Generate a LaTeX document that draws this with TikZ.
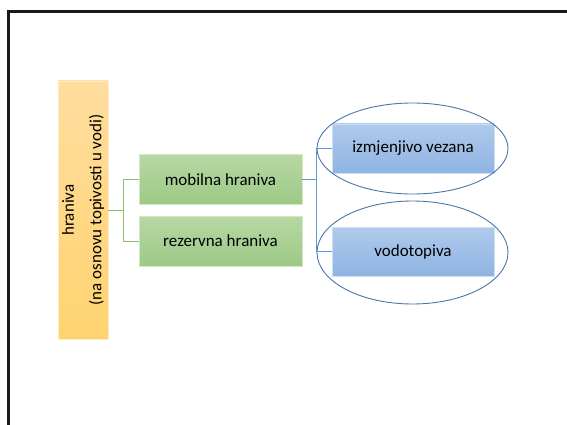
\documentclass[tikz,border=0pt]{standalone}
\usepackage{fontspec}
\setmainfont{Carlito}
\usetikzlibrary{shapes.geometric}
\definecolor{orangetop}{HTML}{FFDD9E}
\definecolor{orangebot}{HTML}{FFD370}
\definecolor{greentop}{HTML}{B7D8A4}
\definecolor{greenbot}{HTML}{9CC986}
\definecolor{bluetop}{HTML}{AFCAEB}
\definecolor{bluebot}{HTML}{8FB4E3}
\definecolor{greenline}{HTML}{8CC06C}
\definecolor{blueline}{HTML}{5B9BD5}
\definecolor{ringline}{HTML}{4A76A8}

\begin{document}
\begin{tikzpicture}[x=1pt,y=-1pt,
    every node/.style={font=\fontsize{17}{20.4}\selectfont, inner sep=0pt},
    greenbox/.style={minimum width=163pt, minimum height=50pt,
        top color=greentop, bottom color=greenbot, draw=greentop!60!white, line width=0.8pt},
    bluebox/.style={minimum width=162pt, minimum height=49pt,
        top color=bluetop, bottom color=bluebot, draw=bluetop!60!white, line width=0.8pt},
    ring/.style={ellipse, draw=ringline, line width=0.9pt, minimum width=191pt},
    greenconn/.style={draw=greenline, line width=0.9pt},
    blueconn/.style={draw=blueline, line width=0.9pt}]
    %%%%% FRAME %%%%%
    \useasboundingbox (0,0) rectangle (567,425);
    \def\fx{8.3}
    \def\fy{11.7}
    \draw[black!90, line width=2.6pt] (\fx,425) -- (\fx,\fy) -- (567,\fy);

    %%%%% BOXES %%%%%
    \node[rotate=90, minimum width=258pt, minimum height=50pt, align=center,
        font=\fontsize{17}{27.5}\selectfont,
        top color=orangetop, bottom color=orangebot, draw=orangetop!60!white, line width=0.8pt]
        (hr) at (83,210) {hraniva\\(na osnovu topivosti u vodi)};

    \node[greenbox] (mob) at (220.5,179.5) {mobilna hraniva};
    \node[greenbox] (rez) at (220.5,241) {rezervna hraniva};

    \node[bluebox] (izm) at (413,148.5) {izmjenjivo vezana};
    \node[bluebox] (vod) at (413,251.5) {vodotopiva};

    %%%%% RINGS %%%%%
    \node[ring, minimum height=91pt] (ringa) at (412.5,148.5) {};
    \node[ring, minimum height=103pt] (ringb) at (412.5,252.5) {};

    %%%%% CONNECTORS %%%%%
    \draw[greenconn] (hr.south) -- ++(15,0) coordinate (gsplit);
    \draw[greenconn] (gsplit) |- (mob.west);
    \draw[greenconn] (gsplit) |- (rez.west);

    \draw[blueconn] (mob.east) -- ++(14.5,0) coordinate (bsplit);
    \draw[blueconn] (bsplit) |- (izm.west);
    \draw[blueconn] (bsplit) |- (vod.west);
\end{tikzpicture}
\end{document}
